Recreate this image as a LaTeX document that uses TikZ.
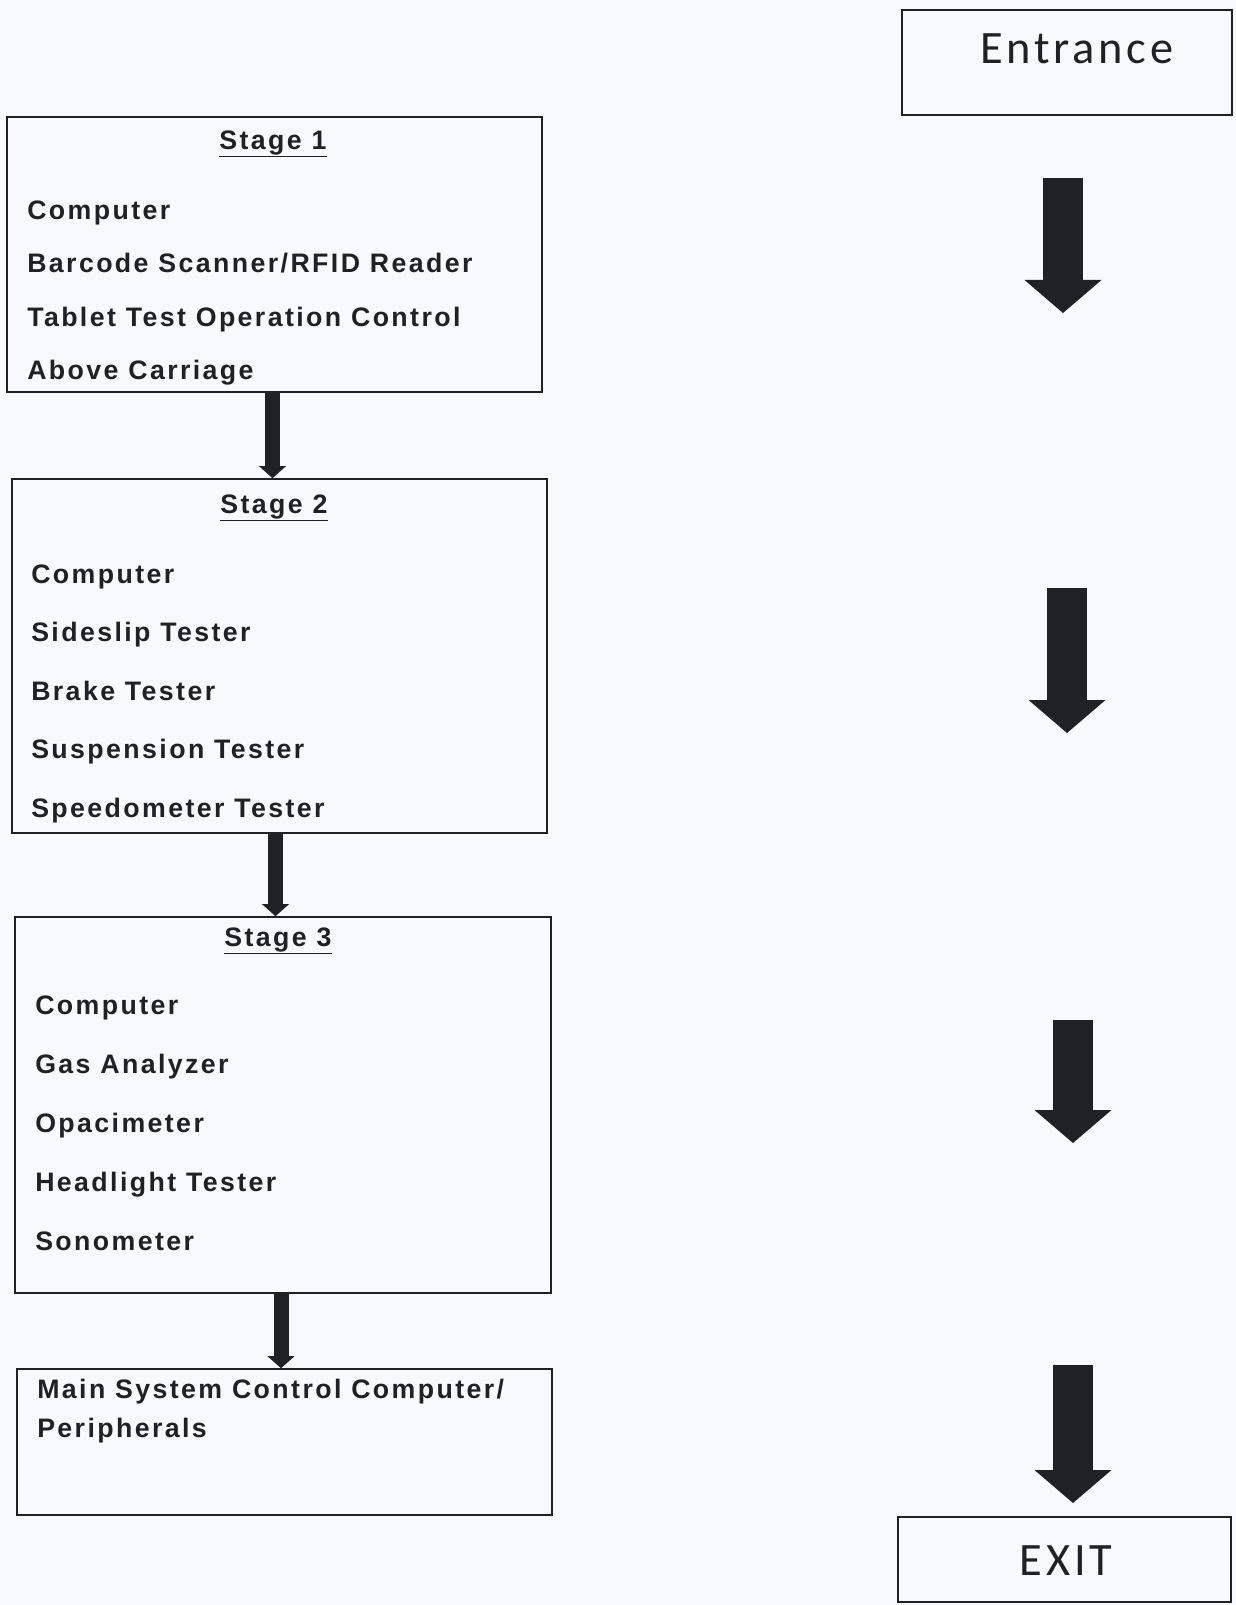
\documentclass[tikz,border=0pt]{standalone}
\usepackage{fontspec}
\setmainfont{Liberation Sans}
\newfontfamily\listfont{Liberation Sans}[LetterSpace=9]
\newfontfamily\signfont{Carlito}[LetterSpace=8]
\usetikzlibrary{arrows.meta}
\usetikzlibrary{calc,positioning}
\definecolor{papel}{RGB}{247,250,252}
\definecolor{tinta}{RGB}{30,33,38}

\begin{document}
\begin{tikzpicture}[x=0.025cm, y=-0.025cm,
    caixa/.style={draw=tinta, line width=1.1pt, inner sep=0pt},
    item/.style={anchor=base west, inner sep=0pt, text=tinta,
        font=\listfont\bfseries\fontsize{19}{21}\selectfont},
    titulo/.style={anchor=base, inner sep=0pt, text=tinta,
        font=\listfont\bfseries\fontsize{19}{21}\selectfont},
    placa/.style={anchor=base, inner sep=0pt, text=tinta,
        font=\signfont\fontsize{33}{36}\selectfont},
    seta/.style={tinta, line width=0.375cm,
        -{Triangle[width=0.675cm, length=0.3cm, line width=0pt]}},
    setagrande/.style={tinta, line width=1cm,
        -{Triangle[width=1.925cm, length=0.825cm, line width=0pt]}}]

    % fundo
    \fill[papel] (0,0) rectangle (1236,1605);
    \useasboundingbox (0,0) rectangle (1236,1605);

    % caixas das etapas
    \node[caixa, minimum width=13.375cm, minimum height=6.875cm] (st1) at (274.5,254.5) {};
    \node[caixa, minimum width=13.375cm, minimum height=8.85cm] (st2) at (279.5,656) {};
    \node[caixa, minimum width=13.4cm, minimum height=9.4cm] (st3) at (283,1105) {};
    \node[caixa, minimum width=13.375cm, minimum height=3.65cm] (main) at (284.5,1442) {};

    % entrada e saida
    \node[caixa, minimum width=8.25cm, minimum height=2.625cm] (entr) at (1067,62.5) {};
    \node[caixa, minimum width=8.325cm, minimum height=2.125cm] (exitbox) at (1064.5,1559.5) {};
    \node[placa] (entrlbl) at (1077,63) {Entrance};
    \node[placa] (exitlbl) at (1066,1575) {EXIT};

    % titulos
    \node[titulo] (t1) at (273,149) {\underline{Stage 1}};
    \node[titulo] (t2) at (274,513) {\underline{Stage 2}};
    \node[titulo] (t3) at (278,946) {\underline{Stage 3}};

    % itens
    \foreach \txt [count=\i] in {Computer, Barcode Scanner/RFID Reader,
        Tablet Test Operation Control, Above Carriage}
        \node[item] (s1i\i) at (27,{219+53.5*(\i-1)}) {\txt};
    \foreach \txt [count=\i] in {Computer, Sideslip Tester, Brake Tester,
        Suspension Tester, Speedometer Tester}
        \node[item] (s2i\i) at (31,{583+58.5*(\i-1)}) {\txt};
    \foreach \txt [count=\i] in {Computer, Gas Analyzer, Opacimeter,
        Headlight Tester, Sonometer}
        \node[item] (s3i\i) at (35,{1014+59*(\i-1)}) {\txt};
    \node[item] (m1) at (37,1398) {Main System Control Computer/};
    \node[item] (m2) at (37,1437) {Peripherals};

    % setas entre etapas
    \coordinate (a1) at ([xshift=-0.05cm]st1.south);
    \coordinate (a2) at ([xshift=-0.1cm]st2.south);
    \coordinate (a3) at ([xshift=-0.05cm]st3.south);
    \draw[seta] (a1) -- (a1 |- st2.north);
    \draw[seta] (a2) -- (a2 |- st3.north);
    \draw[seta] (a3) -- (a3 |- main.north);

    % setas do lado direito
    \coordinate (r1) at (1063,178);
    \coordinate (r2) at (1067,588);
    \coordinate (r3) at (1073,1020);
    \coordinate (r4) at (1073,1365);
    \draw[setagrande] (r1) -- (1063,313);
    \draw[setagrande] (r2) -- (1067,733);
    \draw[setagrande] (r3) -- (1073,1143);
    \draw[setagrande] (r4) -- (1073,1503);

\end{tikzpicture}
\end{document}
